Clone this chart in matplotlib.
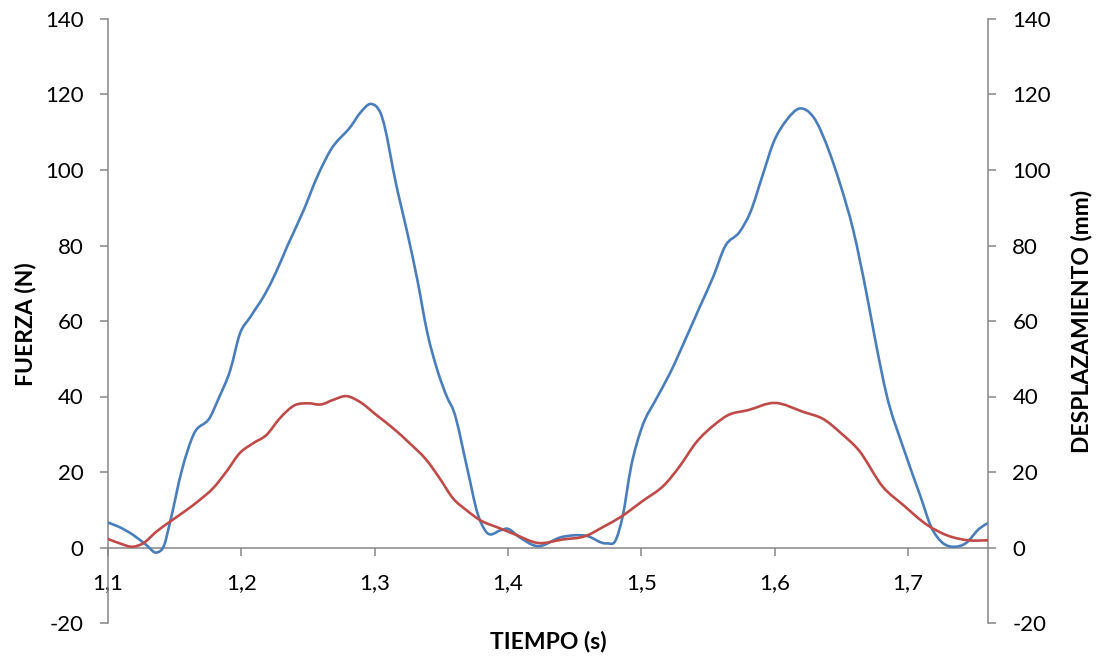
import numpy as np
import matplotlib
matplotlib.use("Agg")
import matplotlib.pyplot as plt
from matplotlib.path import Path
from matplotlib.patches import PathPatch

plt.rcParams['font.family'] = ['Lato', 'DejaVu Sans']
plt.rcParams['axes.unicode_minus'] = False

# ---- data ----
fuerza_t = [1.100, 1.108, 1.119, 1.128, 1.137, 1.142, 1.1466, 1.1554, 1.164, 1.1767,
            1.183, 1.1917, 1.199, 1.2068, 1.218, 1.2256, 1.2343, 1.2468, 1.2569, 1.267,
            1.282, 1.290, 1.297, 1.3045, 1.317, 1.3246, 1.332, 1.3396, 1.347, 1.3547,
            1.3590, 1.3697, 1.3772, 1.3835, 1.3947, 1.3992, 1.4083, 1.4212, 1.4406, 1.4587,
            1.4742, 1.4807, 1.4859, 1.4923, 1.5001, 1.5114, 1.5214, 1.5339, 1.5439, 1.5539,
            1.5627, 1.5739, 1.5814, 1.5914, 1.5989, 1.6089, 1.6189, 1.6289, 1.6414, 1.6489,
            1.6589, 1.6689, 1.6764, 1.6839, 1.6964, 1.7095, 1.7173, 1.7251, 1.7354,
            1.7432, 1.7535, 1.7600]
fuerza_n = [6.6, 5.5, 3.3, 0.9, -1.3, 0.5, 6.8, 20.5, 29.8, 34.6,
            39.5, 47.0, 56.7, 61.1, 67.3, 72.6, 79.7, 89.4, 98.2, 105.3,
            111.5, 115.5, 117.5, 115.0, 94.7, 83.2, 70.9, 56.7, 47.0, 39.5,
            36.4, 20.5, 9.0, 4.2, 4.6, 5.0, 2.8, 0.4, 2.8, 3.1,
            1.1, 1.9, 8.1, 21.4, 31.5, 39.5, 46.1, 55.8, 63.8, 71.7,
            79.7, 83.7, 88.5, 99.1, 107.1, 113.2, 116.3, 114.1, 104.4, 96.5,
            84.1, 67.3, 53.2, 40.5, 26.5, 13.4, 5.5, 1.5, 0.2,
            1.1, 5.0, 6.5]

desp_t = [1.100, 1.1088, 1.1188, 1.1263, 1.1363, 1.1463, 1.1588, 1.1688, 1.1788, 1.1888,
          1.1988, 1.2088, 1.2188, 1.2288, 1.2401, 1.2500, 1.2600, 1.2688, 1.2788, 1.2888,
          1.3013, 1.3138, 1.3263, 1.3388, 1.3488, 1.3588, 1.3688, 1.3788, 1.3938, 1.4050,
          1.4225, 1.4406, 1.4587, 1.4716, 1.4846, 1.5001, 1.5182, 1.5285, 1.5415, 1.5544,
          1.5647, 1.5802, 1.5996, 1.6216, 1.6371, 1.6500, 1.6630, 1.6811, 1.6966, 1.7147,
          1.7302, 1.7457, 1.7600]
desp_mm = [2.25, 1.1, 0.2, 1.1, 4.2, 6.8, 9.9, 12.6, 15.7, 20.1,
           25.0, 27.6, 29.8, 34.2, 37.7, 38.2, 37.9, 39.1, 40.1, 38.6,
           35.1, 31.6, 27.6, 23.2, 18.3, 13.0, 9.9, 7.3, 5.1, 3.5,
           1.2, 2.1, 3.1, 5.5, 8.1, 12.1, 16.9, 21.4, 28.0, 32.4,
           35.0, 36.4, 38.3, 35.9, 33.9, 30.2, 25.8, 16.1, 11.2, 5.9,
           3.1, 1.9, 1.9]

x_ticks = [1.1, 1.2, 1.3, 1.4, 1.5, 1.6, 1.7]
x_labels = ['1,1', '1,2', '1,3', '1,4', '1,5', '1,6', '1,7']
y_ticks = [-20, 0, 20, 40, 60, 80, 100, 120, 140]

BLUE = '#4A7EBB'
RED = '#BE4B48'
GREY = '#868686'


def smooth_path(x, y):
    """Smoothed line (spreadsheet-style) drawn as cubic Bezier segments."""
    x = np.asarray(x, float)
    y = np.asarray(y, float)
    n = len(x)
    h = np.diff(x)
    d = np.diff(y) / h
    m = np.empty(n)
    m[1:-1] = (h[1:] * d[:-1] + h[:-1] * d[1:]) / (h[:-1] + h[1:])
    m[0] = d[0]
    m[-1] = d[-1]
    verts = [(x[0], y[0])]
    codes = [Path.MOVETO]
    for i in range(n - 1):
        dx = h[i]
        verts += [(x[i] + dx / 3, y[i] + m[i] * dx / 3),
                  (x[i + 1] - dx / 3, y[i + 1] - m[i + 1] * dx / 3),
                  (x[i + 1], y[i + 1])]
        codes += [Path.CURVE4] * 3
    return Path(verts, codes)


fig = plt.figure(figsize=(11, 6.6), dpi=100)
ax = fig.add_axes([108 / 1100, 37 / 660, 880 / 1100, 604 / 660])
ax2 = ax.twinx()

for a in (ax, ax2):
    a.set_xlim(1.1, 1.76)
    a.set_ylim(-20, 140)
    a.set_yticks(y_ticks)
    a.patch.set_visible(False)

ax.add_patch(PathPatch(smooth_path(fuerza_t, fuerza_n), fill=False,
                       edgecolor=BLUE, lw=1.9, capstyle='round', joinstyle='round', zorder=3))
ax2.add_patch(PathPatch(smooth_path(desp_t, desp_mm), fill=False,
                        edgecolor=RED, lw=1.9, capstyle='round', joinstyle='round', zorder=3))

# spines
ax.spines['top'].set_visible(False)
ax.spines['right'].set_visible(False)
ax.spines['bottom'].set_position(('data', 0))
ax.spines['left'].set_color(GREY)
ax.spines['bottom'].set_color(GREY)
ax.spines['left'].set_linewidth(1.1)
ax.spines['bottom'].set_linewidth(1.1)
for s in ('top', 'left', 'bottom'):
    ax2.spines[s].set_visible(False)
ax2.spines['right'].set_color(GREY)
ax2.spines['right'].set_linewidth(1.1)

ax.set_xticks(x_ticks)
ax.set_xticklabels(x_labels)
ax.tick_params(axis='x', direction='out', length=5.5, width=1.1, color=GREY,
               labelsize=16, pad=13, labelcolor='black')
ax.tick_params(axis='y', direction='out', length=5.5, width=1.1, color=GREY,
               labelsize=16, pad=12, labelcolor='black')
ax2.tick_params(axis='y', direction='out', length=5.5, width=1.1, color=GREY,
                labelsize=16, pad=12, labelcolor='black')
ax2.tick_params(axis='x', bottom=False, labelbottom=False)

fig.text(25 / 1100, 1 - 324 / 660, 'FUERZA (N)', rotation=90, ha='center', va='center',
         fontsize=16.5, fontweight='bold')
fig.text(1082 / 1100, 1 - 321 / 660, 'DESPLAZAMIENTO (mm)', rotation=90, ha='center',
         va='center', fontsize=16.5, fontweight='bold')
fig.text(548 / 1100, 1 - 641 / 660, 'TIEMPO (s)', ha='center', va='center',
         fontsize=16.5, fontweight='bold')

fig.savefig('out.png', dpi=100, facecolor='white')
